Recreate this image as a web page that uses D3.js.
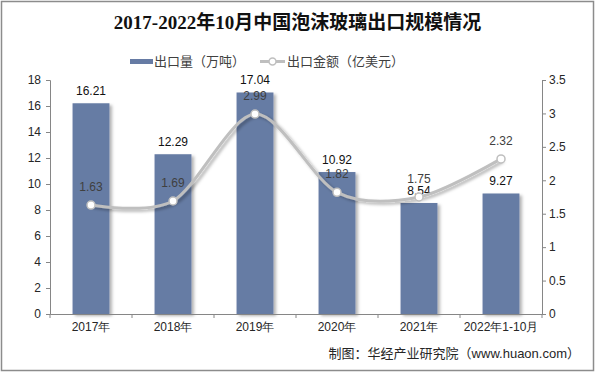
<!DOCTYPE html>
<html>
<head>
<meta charset="utf-8">
<script src="https://cdn.jsdelivr.net/npm/d3@7"></script>
<style>
  body { margin: 0; background: #fff; }
  svg { display: block; font-family: "Liberation Sans", Arial, "Noto Sans CJK SC", sans-serif; }
</style>
</head>
<body>
<div id="chart"></div>
<script>
const years = ['2017年', '2018年', '2019年', '2020年', '2021年', '2022年1-10月'];
const volume = [16.21, 12.29, 17.04, 10.92, 8.54, 9.27];   // 出口量（万吨）
const amount = [1.63, 1.69, 2.99, 1.82, 1.75, 2.32];       // 出口金额（亿美元）
const leftTicks = [0, 2, 4, 6, 8, 10, 12, 14, 16, 18];
const rightTicks = [0, 0.5, 1, 1.5, 2, 2.5, 3, 3.5];

const width = 595;
const height = 372;
const margin = { top: 80, right: 53, bottom: 58, left: 50 };
const barColor = '#667ba4';
const lineColor = '#bfbfbf';

const svg = d3.select('#chart')
  .append('svg')
    .attr('width', width)
    .attr('height', height);

const defs = svg.append('defs');
const shadow = defs.append('filter')
  .attr('id', 'shadow')
  .attr('x', '-20%').attr('y', '-20%')
  .attr('width', '150%').attr('height', '150%');
shadow.append('feDropShadow')
  .attr('dx', 2.5).attr('dy', 2)
  .attr('stdDeviation', 1.6)
  .attr('flood-color', '#000')
  .attr('flood-opacity', 0.3);

// outer frame
svg.append('rect')
  .attr('x', 1.5).attr('y', 1.5)
  .attr('width', width - 3).attr('height', height - 3)
  .attr('fill', 'none')
  .attr('stroke', '#8c8c8c')
  .attr('stroke-width', 1.5);

// title
svg.append('text')
  .attr('x', width / 2)
  .attr('y', 29)
  .attr('text-anchor', 'middle')
  .style('font-family', '"Liberation Serif", "Noto Sans CJK SC", serif')
  .style('font-size', '19px')
  .style('font-weight', 'bold')
  .attr('fill', '#111')
  .text('2017-2022年10月中国泡沫玻璃出口规模情况');

const x = d3.scaleBand()
  .domain(years)
  .range([margin.left, width - margin.right])
  .paddingInner(0.55)
  .paddingOuter(0.275);

const xBand = d3.scaleBand()
  .domain(years)
  .range([margin.left, width - margin.right]);

const yL = d3.scaleLinear()
  .domain([0, 18])
  .range([height - margin.bottom, margin.top]);

const yR = d3.scaleLinear()
  .domain([0, 3.5])
  .range([height - margin.bottom, margin.top]);

// left axis
const gl = svg.append('g')
  .attr('transform', `translate(${margin.left}, 0)`)
  .call(d3.axisLeft(yL).tickValues(leftTicks).tickSize(4).tickPadding(5));
gl.select('.domain').attr('stroke', '#868686');
gl.selectAll('line').attr('stroke', '#868686');
gl.selectAll('text').style('font-size', '12px').attr('fill', '#262626');

// right axis
const gr = svg.append('g')
  .attr('transform', `translate(${width - margin.right}, 0)`)
  .call(d3.axisRight(yR).tickValues(rightTicks).tickFormat(d3.format('~g')).tickSize(4).tickPadding(3));
gr.select('.domain').attr('stroke', '#868686');
gr.selectAll('line').attr('stroke', '#868686');
gr.selectAll('text').style('font-size', '12px').attr('fill', '#262626');

// bars
svg.append('g')
  .selectAll('rect')
  .data(volume)
  .enter()
  .append('rect')
    .attr('x', (d, i) => x(years[i]))
    .attr('y', d => yL(d))
    .attr('width', x.bandwidth())
    .attr('height', d => yL(0) - yL(d))
    .attr('fill', barColor)
    .attr('filter', 'url(#shadow)');

// x axis
const gx = svg.append('g')
  .attr('transform', `translate(0, ${height - margin.bottom})`)
  .call(d3.axisBottom(xBand).tickSize(0).tickPadding(8));
gx.select('.domain').attr('stroke', '#868686');
gx.selectAll('text').style('font-size', '12px').attr('fill', '#262626');
gx.selectAll('.bound')
  .data(d3.range(years.length + 1))
  .enter()
  .append('line')
    .attr('class', 'bound')
    .attr('x1', i => margin.left + i * xBand.step())
    .attr('x2', i => margin.left + i * xBand.step())
    .attr('y1', 0).attr('y2', 4)
    .attr('stroke', '#868686');

// bar labels
svg.append('g')
  .selectAll('text')
  .data(volume)
  .enter()
  .append('text')
    .attr('x', (d, i) => x(years[i]) + x.bandwidth() / 2)
    .attr('y', d => yL(d) - 8)
    .attr('text-anchor', 'middle')
    .style('font-size', '12px')
    .attr('fill', '#111')
    .text(d => d.toFixed(2));

// line
const cx = (d, i) => xBand(years[i]) + xBand.bandwidth() / 2;
const line = d3.line()
  .x(cx)
  .y(d => yR(d))
  .curve(d3.curveCardinal.tension(0.1));

svg.append('path')
  .datum(amount)
  .attr('d', line)
  .attr('fill', 'none')
  .attr('stroke', lineColor)
  .attr('stroke-width', 3)
  .attr('filter', 'url(#shadow)');

svg.append('g')
  .selectAll('circle')
  .data(amount)
  .enter()
  .append('circle')
    .attr('cx', cx)
    .attr('cy', d => yR(d))
    .attr('r', 4)
    .attr('fill', '#fff')
    .attr('stroke', lineColor)
    .attr('stroke-width', 1.5);

svg.append('g')
  .selectAll('text')
  .data(amount)
  .enter()
  .append('text')
    .attr('x', cx)
    .attr('y', d => yR(d) - 14)
    .attr('text-anchor', 'middle')
    .style('font-size', '12px')
    .attr('fill', '#404040')
    .text(d => d.toFixed(2));

// legend
const legend = svg.append('g').style('font-size', '13px').attr('fill', '#404040');
legend.append('rect')
  .attr('x', 130).attr('y', 59)
  .attr('width', 23).attr('height', 5)
  .attr('fill', barColor);
legend.append('text')
  .attr('x', 154).attr('y', 66)
  .style('font-family', '"Noto Sans CJK SC", sans-serif')
  .text('出口量（万吨）');
legend.append('line')
  .attr('x1', 260).attr('x2', 285)
  .attr('y1', 61.5).attr('y2', 61.5)
  .attr('stroke', lineColor)
  .attr('stroke-width', 3);
legend.append('circle')
  .attr('cx', 272.5).attr('cy', 61.5)
  .attr('r', 3.5)
  .attr('fill', '#fff')
  .attr('stroke', lineColor)
  .attr('stroke-width', 1.5);
legend.append('text')
  .attr('x', 287).attr('y', 66)
  .style('font-family', '"Noto Sans CJK SC", sans-serif')
  .text('出口金额（亿美元）');

// source
svg.append('text')
  .attr('x', 580).attr('y', 358)
  .attr('text-anchor', 'end')
  .style('font-size', '13px')
  .attr('fill', '#262626')
  .text('制图：华经产业研究院（www.huaon.com）');
</script>
</body>
</html>
